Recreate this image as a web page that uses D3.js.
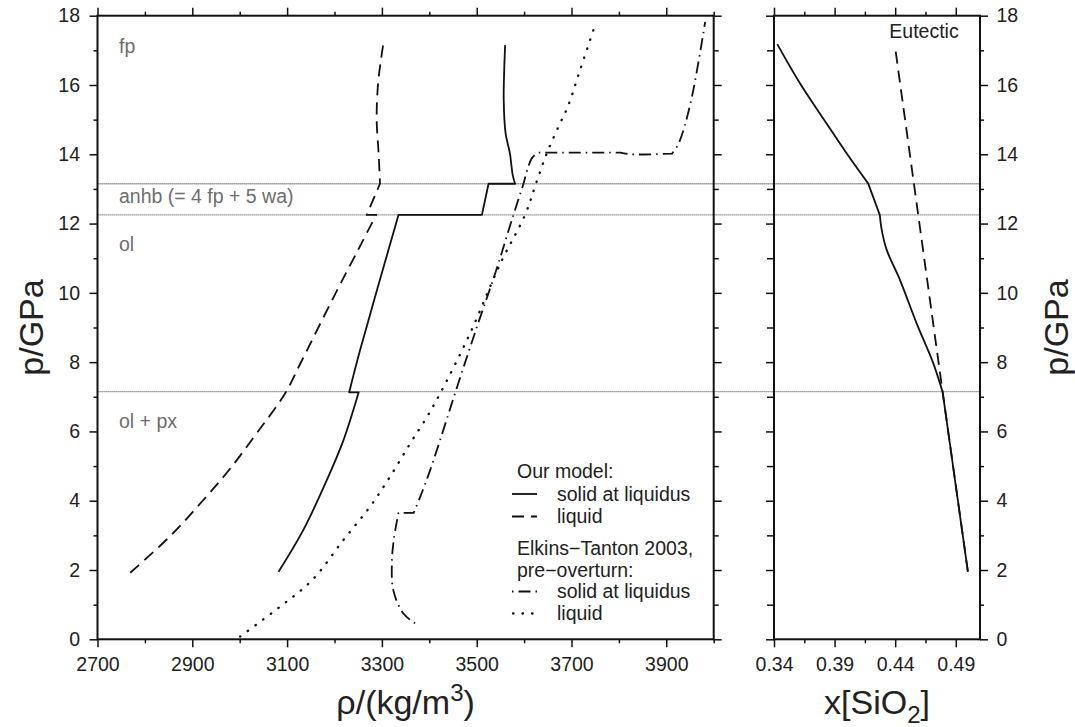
<!DOCTYPE html>
<html><head><meta charset="utf-8">
<script src="https://cdn.jsdelivr.net/npm/d3@7"></script>
<style>
body{margin:0;background:#fff}
svg{display:block}
text{font-family:"Liberation Sans",Arial,Helvetica,sans-serif}
</style>
</head><body>
<svg id="chart" width="1075" height="727"></svg>
<script>
// ---------------- data ----------------
const pMajorTicks = [0, 2, 4, 6, 8, 10, 12, 14, 16, 18];
const pMinorTicks = [1, 3, 5, 7, 9, 11, 13, 15, 17];
const rhoMajorTicks = [2700, 2900, 3100, 3300, 3500, 3700, 3900];
const rhoMinorTicks = [2800, 3000, 3200, 3400, 3600, 3800, 4000];
const xMajorTicks = [0.34, 0.39, 0.44, 0.49];
const xMinorTicks = [0.365, 0.415, 0.465];

const boundaryP = [13.15, 12.25, 7.15];
const regionNames = ["fp", "anhb (= 4 fp + 5 wa)", "ol", "ol + px"];

// Our model: solid at liquidus (density)
const ourSolidRho = [3082, 3134, 3184, 3219, 3251, 3231, 3254, 3335, 3511, 3525, 3581, 3576, 3570, 3561, 3557, 3558, 3560];
const ourSolidP   = [1.95, 3.15, 4.6, 5.75, 7.13, 7.13, 8.35, 12.25, 12.25, 13.15, 13.15, 13.4, 14.03, 14.6, 15.56, 16.4, 17.15];

// Our model: liquid (density)
const ourLiquidRho = [2769, 2855, 2922, 2980, 3036, 3096, 3128, 3199, 3252, 3288, 3268, 3296, 3293, 3289, 3292, 3303];
const ourLiquidP   = [1.92, 3.0, 4.0, 4.93, 5.95, 7.1, 7.96, 9.9, 11.3, 12.25, 12.25, 13.15, 14.03, 15.0, 16.05, 17.2];

// Elkins-Tanton 2003, pre-overturn: solid at liquidus
const etSolidRho = [3370, 3345, 3324, 3321, 3325, 3335, 3367, 3381, 3402, 3460, 3503, 3540, 3574, 3599, 3616, 3630, 3803, 3824, 3912, 3926, 3951, 3982];
const etSolidP   = [0.46, 0.75, 1.42, 2.19, 2.87, 3.65, 3.65, 4.12, 4.89, 7.34, 9.12, 10.6, 12.1, 13.16, 13.88, 14.05, 14.05, 14.0, 14.02, 14.31, 15.47, 17.82];

// Elkins-Tanton 2003, pre-overturn: liquid
const etLiquidRho = [3001, 3085, 3153, 3219, 3275, 3317, 3360, 3395, 3423, 3486, 3550, 3602, 3624, 3648, 3674, 3692, 3718, 3752];
const etLiquidP   = [0.08, 0.94, 1.71, 2.87, 3.83, 4.69, 5.66, 6.42, 7.1, 8.83, 10.85, 12.25, 13.11, 14.03, 14.84, 15.37, 16.43, 17.82];

// Right panel: x[SiO2] of solid at liquidus and eutectic
const solidX  = [0.5, 0.4792, 0.4714, 0.4577, 0.444, 0.433, 0.4289, 0.4273, 0.4177, 0.3999, 0.3834, 0.3614, 0.3427];
const solidXP = [1.95, 7.13, 7.97, 9.12, 10.37, 11.24, 11.82, 12.25, 13.16, 14.03, 14.89, 16.05, 17.18];
const eutecticX = [0.5, 0.4792, 0.4397];
const eutecticP = [1.95, 7.13, 17.15];

// ---------------- drawing ----------------
const svg = d3.select("#chart");
const INK = "#111";
const TXT = "#222";
const tickFont = 19.5;

const y = d3.scaleLinear().domain([0, 18]).range([639.3, 15.7]);
const rho = d3.scaleLinear().domain([2700, 4000]).range([97.5, 713.7]);
const xs = d3.scaleLinear().domain([0.34, 0.51]).range([774, 980]);

const styles = { solid: null, dashed: "12,7", dashdot: "1.5,5,12,5", dotted: "dot" };

function axisG(axis, transform) {
  const g = svg.append("g").attr("transform", transform).call(axis);
  g.select(".domain").remove();
  g.selectAll(".tick line").attr("stroke", INK).attr("stroke-width", 1.5);
  g.selectAll(".tick text").attr("fill", TXT).attr("font-size", tickFont)
    .attr("font-family", '"Liberation Sans",Arial,sans-serif');
  return g;
}

function panelAxes(xScale, majX, minX, xfmt, leftLabels, rightLabels) {
  const [x0, x1] = xScale.range();
  const [yb, yt] = y.range();
  axisG(d3.axisBottom(xScale).tickValues(majX).tickSize(8).tickPadding(9.5).tickFormat(xfmt), `translate(0,${yb})`);
  axisG(d3.axisBottom(xScale).tickValues(minX).tickSize(4).tickFormat(""), `translate(0,${yb})`);
  axisG(d3.axisTop(xScale).tickValues(majX).tickSize(8).tickFormat(""), `translate(0,${yt})`);
  axisG(d3.axisTop(xScale).tickValues(minX).tickSize(4).tickFormat(""), `translate(0,${yt})`);
  axisG(d3.axisLeft(y).tickValues(pMajorTicks).tickSize(8).tickPadding(9.5).tickFormat(leftLabels ? d3.format("d") : ""), `translate(${x0},0)`);
  axisG(d3.axisLeft(y).tickValues(pMinorTicks).tickSize(leftLabels ? 4 : 7).tickFormat(""), `translate(${x0},0)`);
  axisG(d3.axisRight(y).tickValues(pMajorTicks).tickSize(8).tickPadding(8.5).tickFormat(rightLabels ? d3.format("d") : ""), `translate(${x1},0)`);
  axisG(d3.axisRight(y).tickValues(pMinorTicks).tickSize(rightLabels ? 4 : 5).tickFormat(""), `translate(${x1},0)`);
  svg.append("rect").attr("x", x0).attr("y", yt).attr("width", x1 - x0).attr("height", yb - yt)
    .attr("fill", "none").attr("stroke", INK).attr("stroke-width", 2);
}

// boundary lines (span both panels)
svg.append("g").selectAll("line").data(boundaryP).join("line")
  .attr("x1", rho.range()[0]).attr("x2", xs.range()[1])
  .attr("y1", d => y(d)).attr("y2", d => y(d))
  .attr("stroke", "#777").attr("stroke-width", 1.3).attr("stroke-dasharray", "1.2,0.8");

// region labels
const regionP = [16.93, 12.6, 11.2, 6.1];
svg.append("g").selectAll("text").data(regionNames).join("text")
  .attr("x", 119).attr("y", (d, i) => y(regionP[i]))
  .attr("font-size", 19.5).attr("fill", "#6e6e6e").text(d => d);

panelAxes(rho, rhoMajorTicks, rhoMinorTicks, d3.format("d"), true, false);
panelAxes(xs, xMajorTicks, xMinorTicks, d3.format(".2f"), false, true);

function applyDash(sel, dash) {
  if (dash === "dot") sel.attr("stroke-linecap", "round").attr("stroke-dasharray", "0.5,9").attr("stroke-width", 2.3);
  else if (dash) sel.attr("stroke-dasharray", dash);
}

// smooth runs, split at horizontal steps and at given kink indices
function drawSeries(xScale, xv, pv, dash, kinks = []) {
  const pts = xv.map((v, i) => [xScale(v), y(pv[i])]);
  const runs = [];
  let cur = [pts[0]];
  for (let i = 1; i < pts.length; i++) {
    if (pv[i] === pv[i - 1]) { runs.push(cur); cur = [pts[i]]; }
    else {
      cur.push(pts[i]);
      if (kinks.includes(i)) { runs.push(cur); cur = [pts[i]]; }
    }
  }
  runs.push(cur);
  const line = d3.line().curve(d3.curveCatmullRom.alpha(0.5));
  const d = runs.filter(r => r.length).map((r, j) => {
    const s = r.length === 1 ? `M${r[0][0]},${r[0][1]}` : line(r);
    return j === 0 ? s : "L" + s.slice(1);
  }).join("");
  const path = svg.append("path").attr("d", d).attr("fill", "none")
    .attr("stroke", INK).attr("stroke-width", 1.8).attr("stroke-linejoin", "round");
  applyDash(path, dash);
  return path;
}

drawSeries(rho, ourSolidRho, ourSolidP, styles.solid);
drawSeries(rho, ourLiquidRho, ourLiquidP, styles.dashed, [11]);
drawSeries(rho, etSolidRho, etSolidP, styles.dashdot, [13, 18]);
drawSeries(rho, etLiquidRho, etLiquidP, styles.dotted);
drawSeries(xs, solidX, solidXP, styles.solid, [1, 7, 8]);
drawSeries(xs, eutecticX, eutecticP, styles.dashed, [1]);

// Eutectic label
svg.append("text").attr("x", 924).attr("y", 38).attr("text-anchor", "middle")
  .attr("font-size", 19.5).attr("fill", TXT).text("Eutectic");

// legend
const legendItems = [
  {type: "head", text: "Our model:", yb: 478},
  {type: "item", text: "solid at liquidus", yb: 500.5, dash: styles.solid},
  {type: "item", text: "liquid", yb: 523, dash: styles.dashed},
  {type: "head", text: "Elkins\u2212Tanton 2003,", yb: 555},
  {type: "head", text: "pre\u2212overturn:", yb: 576.5},
  {type: "item", text: "solid at liquidus", yb: 598, dash: styles.dashdot},
  {type: "item", text: "liquid", yb: 620, dash: styles.dotted}
];
const lg = svg.append("g");
legendItems.forEach(it => {
  if (it.type === "head") {
    lg.append("text").attr("x", 517).attr("y", it.yb).attr("font-size", 19.5).attr("fill", TXT).text(it.text);
  } else {
    lg.append("text").attr("x", 557).attr("y", it.yb).attr("font-size", 19.5).attr("fill", TXT).text(it.text);
    const l = lg.append("line").attr("x1", it.dash === "dot" ? 513 : 512).attr("x2", 537)
      .attr("y1", it.yb - 6.5).attr("y2", it.yb - 6.5)
      .attr("stroke", INK).attr("stroke-width", 1.8);
    applyDash(l, it.dash);
  }
});

// axis titles
const t1 = svg.append("text").attr("x", 405.6).attr("y", 714).attr("text-anchor", "middle")
  .attr("font-size", 34).attr("fill", TXT);
t1.append("tspan").text("\u03C1/(kg/m");
t1.append("tspan").attr("font-size", 24).attr("dy", -13).text("3");
t1.append("tspan").attr("dy", 13).text(")");

const t2 = svg.append("text").attr("x", 877).attr("y", 714).attr("text-anchor", "middle")
  .attr("font-size", 34).attr("fill", TXT);
t2.append("tspan").text("x[SiO");
t2.append("tspan").attr("font-size", 24).attr("dy", 9).text("2");
t2.append("tspan").attr("dy", -9).text("]");

svg.append("text").attr("transform", "translate(43,327.5) rotate(-90)").attr("text-anchor", "middle")
  .attr("font-size", 34).attr("fill", TXT).text("p/GPa");
svg.append("text").attr("transform", "translate(1068,327.5) rotate(-90)").attr("text-anchor", "middle")
  .attr("font-size", 34).attr("fill", TXT).text("p/GPa");
</script>
</body></html>
